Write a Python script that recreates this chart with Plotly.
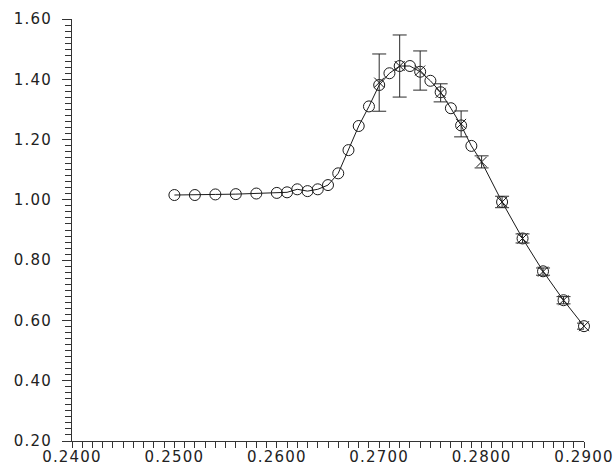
import plotly.graph_objects as go

# Circle series (line + open circles)
circ_x = [0.250, 0.252, 0.254, 0.256, 0.258, 0.260, 0.261, 0.262, 0.263, 0.264,
          0.265, 0.266, 0.267, 0.268, 0.269, 0.270, 0.271, 0.272, 0.273, 0.274,
          0.275, 0.276, 0.277, 0.278, 0.279, 0.282, 0.284, 0.286, 0.288, 0.290]
circ_y = [1.016, 1.016, 1.018, 1.019, 1.021, 1.023, 1.025, 1.035, 1.029, 1.035,
          1.049, 1.088, 1.165, 1.245, 1.310, 1.381, 1.420, 1.444, 1.444, 1.425,
          1.395, 1.357, 1.304, 1.247, 1.179, 0.993, 0.872, 0.763, 0.667, 0.581]

# Line through the curve
line_x = [0.250, 0.252, 0.254, 0.256, 0.258, 0.260, 0.261, 0.262, 0.263, 0.264,
          0.265, 0.266, 0.267, 0.268, 0.269, 0.270, 0.271, 0.272, 0.273, 0.274,
          0.275, 0.276, 0.277, 0.278, 0.279, 0.280, 0.282, 0.284, 0.286, 0.288, 0.290]
line_y = [1.016, 1.016, 1.018, 1.019, 1.021, 1.023, 1.025, 1.035, 1.029, 1.035,
          1.049, 1.088, 1.165, 1.245, 1.310, 1.381, 1.420, 1.444, 1.444, 1.425,
          1.395, 1.357, 1.304, 1.247, 1.179, 1.126, 0.993, 0.872, 0.763, 0.667, 0.581]

# X-marker series with error bars
err_x = [0.270, 0.272, 0.274, 0.276, 0.278, 0.280, 0.282, 0.284, 0.286, 0.288, 0.290]
err_y = [1.389, 1.444, 1.429, 1.355, 1.252, 1.126, 0.993, 0.872, 0.762, 0.667, 0.581]
err_e = [0.095, 0.103, 0.065, 0.030, 0.043, 0.020, 0.019, 0.015, 0.012, 0.012, 0.010]

INK = "#1a1a1a"

fig = go.Figure()
fig.add_trace(go.Scatter(x=line_x, y=line_y, mode="lines", cliponaxis=False,
                         line=dict(color=INK, width=1), hoverinfo="skip"))
fig.add_trace(go.Scatter(x=circ_x, y=circ_y, mode="markers", cliponaxis=False,
                         marker=dict(symbol="circle-open", size=11, color=INK,
                                     line=dict(width=1, color=INK))))
fig.add_trace(go.Scatter(x=err_x, y=err_y, mode="markers", cliponaxis=False,
                         marker=dict(symbol="x-thin-open", size=10, color=INK,
                                     line=dict(width=1, color=INK)),
                         error_y=dict(type="data", array=err_e, visible=True,
                                      color="#2a2a2a", thickness=1, width=7)))

axis_font = dict(family="DejaVu Sans", size=15, color="#222222")
fig.update_layout(
    width=614, height=466,
    margin=dict(l=72, r=30, t=19, b=25),
    paper_bgcolor="white", plot_bgcolor="white",
    showlegend=False,
    xaxis=dict(range=[0.24, 0.29], tick0=0.24, dtick=0.01, tickformat=".4f",
               automargin=False,
               ticks="outside", ticklen=6, tickwidth=1, tickcolor="#333",
               minor=dict(dtick=0.001, ticks="outside", ticklen=6, tickcolor="#333"),
               showline=True, linecolor="#333", linewidth=1,
               showgrid=False, zeroline=False, tickfont=axis_font,
               ticklabelstandoff=-4),
    yaxis=dict(range=[0.2, 1.6], tick0=0.2, dtick=0.2, tickformat=".2f",
               automargin=False,
               ticks="outside", ticklen=9, tickwidth=1, tickcolor="#333",
               minor=dict(dtick=0.02, ticks="outside", ticklen=6, tickcolor="#333"),
               showline=True, linecolor="#333", linewidth=1,
               showgrid=False, zeroline=False, tickfont=axis_font,
               ticklabelstandoff=7),
)

css_js = """
var st = document.createElement('style');
st.textContent = 'html, body { margin: 0; padding: 0; overflow: hidden; }' +
                 '.xtick text, .ytick text { letter-spacing: 1.2px; }';
document.head.appendChild(st);
"""
fig.write_html("out.html", post_script=css_js,
               config={"displayModeBar": False, "staticPlot": True})
